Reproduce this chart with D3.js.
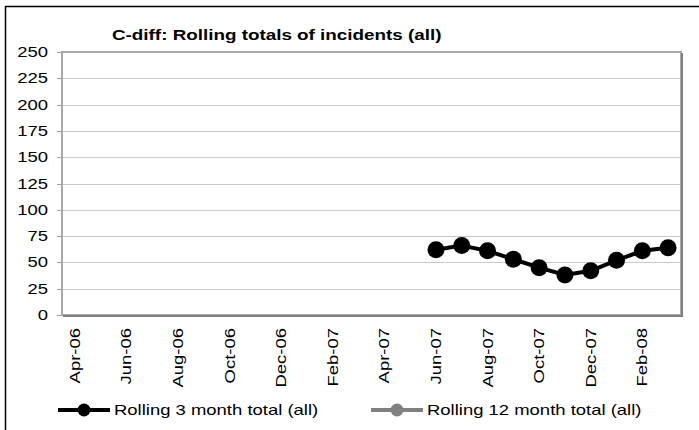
<!DOCTYPE html>
<html>

<head>
    <meta charset="UTF-8">
    <title>C-diff rolling totals</title>
    <script src="https://d3js.org/d3.v7.min.js"></script>
    <style>
        body {
            margin: 0;
            background-color: white;
        }
        text {
            font-family: "Liberation Sans", Arial, sans-serif;
        }
    </style>
</head>

<body>
    <div id="chart"></div>
    <script>
        // data
        var months = ['Apr-06', 'May-06', 'Jun-06', 'Jul-06', 'Aug-06', 'Sep-06', 'Oct-06', 'Nov-06',
            'Dec-06', 'Jan-07', 'Feb-07', 'Mar-07', 'Apr-07', 'May-07', 'Jun-07', 'Jul-07',
            'Aug-07', 'Sep-07', 'Oct-07', 'Nov-07', 'Dec-07', 'Jan-08', 'Feb-08', 'Mar-08'];
        var tickLabels = ['Apr-06', 'Jun-06', 'Aug-06', 'Oct-06', 'Dec-06', 'Feb-07',
            'Apr-07', 'Jun-07', 'Aug-07', 'Oct-07', 'Dec-07', 'Feb-08'];
        var rolling3 = [null, null, null, null, null, null, null, null, null, null, null, null,
            null, null, 62, 66, 61, 53, 45, 38, 42, 52, 61, 64];
        var rolling12 = [null, null, null, null, null, null, null, null, null, null, null, null,
            null, null, null, null, null, null, null, null, null, null, null, null];
        var yTicks = [0, 25, 50, 75, 100, 125, 150, 175, 200, 225, 250];
        var seriesNames = ['Rolling 3 month total (all)', 'Rolling 12 month total (all)'];
        var seriesColors = ['#000000', '#808080'];

        (function(d3) {

            var width = 699;
            var height = 430;
            var stretch = 1.32; // text in the picture is drawn wide

            var svg = d3.select('#chart')
                .append('svg')
                    .attr('width', width)
                    .attr('height', height);

            // outer chart border (cut off at right and bottom)
            svg.append('rect')
                .attr('x', 5.5)
                .attr('y', 6.5)
                .attr('width', 900)
                .attr('height', 600)
                .attr('fill', 'white')
                .attr('stroke', '#000')
                .attr('stroke-width', 1.5);

            var left = 62, right = 681, top = 52, bottom = 315;

            var x = d3.scaleBand()
                .domain(months)
                .range([left, right]);

            var y = d3.scaleLinear()
                .domain([0, 250])
                .range([bottom, top]);

            // gridlines
            svg.append('g')
                .selectAll('line')
                .data(yTicks)
                .enter()
                .append('line')
                    .attr('x1', left)
                    .attr('x2', right)
                    .attr('y1', function(d) { return Math.round(y(d)) + 0.5; })
                    .attr('y2', function(d) { return Math.round(y(d)) + 0.5; })
                    .attr('stroke', '#c8c8c8')
                    .attr('stroke-width', 1);

            // y tick marks
            svg.append('g')
                .selectAll('line')
                .data(yTicks)
                .enter()
                .append('line')
                    .attr('x1', left - 5)
                    .attr('x2', left)
                    .attr('y1', function(d) { return Math.round(y(d)) + 0.5; })
                    .attr('y2', function(d) { return Math.round(y(d)) + 0.5; })
                    .attr('stroke', '#a0a0a0')
                    .attr('stroke-width', 1);

            // plot area frame with a darker right/bottom edge
            svg.append('rect')
                .attr('x', left)
                .attr('y', top)
                .attr('width', right - left)
                .attr('height', bottom - top)
                .attr('fill', 'none')
                .attr('stroke', '#a8a8a8')
                .attr('stroke-width', 2);
            svg.append('path')
                .attr('d', 'M' + (right + 1) + ',' + (top + 1) + 'V' + (bottom + 1) + 'H' + (left + 1))
                .attr('fill', 'none')
                .attr('stroke', '#808080')
                .attr('stroke-width', 2);

            // y labels
            svg.append('g')
                .selectAll('text')
                .data(yTicks)
                .enter()
                .append('text')
                    .attr('transform', function(d) {
                        return 'translate(48,' + (y(d) + 5) + ') scale(' + stretch + ',1)';
                    })
                    .attr('text-anchor', 'end')
                    .attr('font-size', 14)
                    .attr('fill', '#000')
                    .text(function(d) { return d; });

            // x labels, rotated
            svg.append('g')
                .selectAll('text')
                .data(tickLabels)
                .enter()
                .append('text')
                    .attr('transform', function(d) {
                        var cx = x(d) + x.bandwidth() / 2 + 5;
                        return 'translate(' + cx + ',328) rotate(-90) scale(' + stretch + ',1)';
                    })
                    .attr('text-anchor', 'end')
                    .attr('font-size', 14)
                    .attr('fill', '#000')
                    .text(function(d) { return d; });

            // series
            var series = [rolling3, rolling12];
            series.forEach(function(values, i) {
                var pts = values.map(function(v, j) { return { m: months[j], v: v }; });
                var line = d3.line()
                    .defined(function(d) { return d.v !== null; })
                    .x(function(d) { return x(d.m) + x.bandwidth() / 2; })
                    .y(function(d) { return y(d.v); });

                svg.append('path')
                    .datum(pts)
                    .attr('d', line)
                    .attr('fill', 'none')
                    .attr('stroke', seriesColors[i])
                    .attr('stroke-width', 4);

                svg.append('g')
                    .selectAll('circle')
                    .data(pts.filter(function(d) { return d.v !== null; }))
                    .enter()
                    .append('circle')
                        .attr('cx', function(d) { return x(d.m) + x.bandwidth() / 2; })
                        .attr('cy', function(d) { return y(d.v); })
                        .attr('r', 8.5)
                        .attr('fill', seriesColors[i]);
            });

            // title
            svg.append('text')
                .attr('transform', 'translate(112,40) scale(1.3,1)')
                .attr('font-size', 14.5)
                .attr('font-weight', 'bold')
                .attr('fill', '#000')
                .text('C-diff: Rolling totals of incidents (all)');

            // legend
            var legendX = [58, 371];
            var legend = svg.selectAll('.legend')
                .data(seriesNames)
                .enter()
                .append('g')
                .attr('class', 'legend')
                .attr('transform', function(d, i) {
                    return 'translate(' + legendX[i] + ',410)';
                });

            legend.append('line')
                .attr('x1', 0)
                .attr('x2', 52)
                .attr('y1', 0)
                .attr('y2', 0)
                .attr('stroke', function(d, i) { return seriesColors[i]; })
                .attr('stroke-width', 4);

            legend.append('circle')
                .attr('cx', 26)
                .attr('cy', 0)
                .attr('r', 6.5)
                .attr('fill', function(d, i) { return seriesColors[i]; });

            legend.append('text')
                .attr('transform', 'translate(56,5) scale(' + stretch + ',1)')
                .attr('font-size', 14)
                .attr('fill', '#000')
                .text(function(d) { return d; });

        })(window.d3);
    </script>
</body>

</html>
